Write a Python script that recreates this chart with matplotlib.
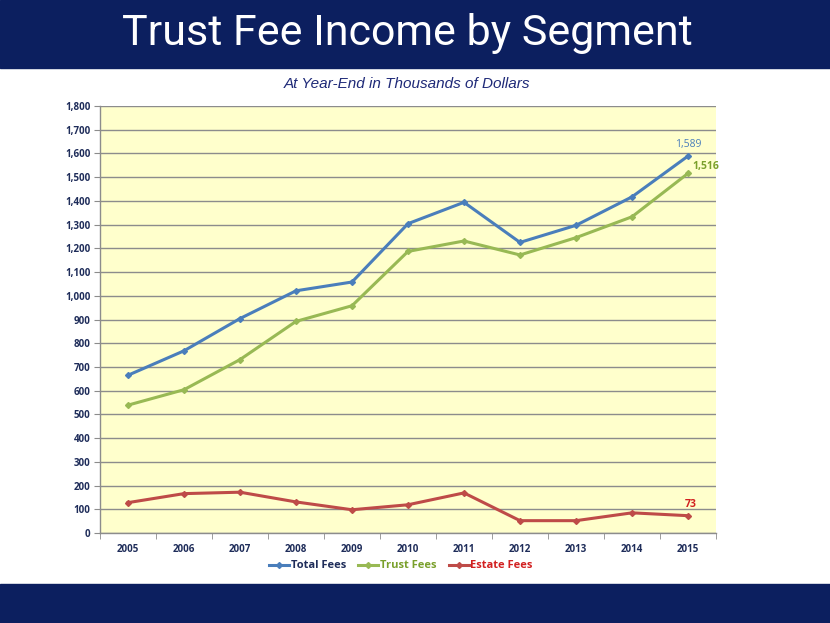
import matplotlib
matplotlib.use("Agg")
import matplotlib.pyplot as plt
from matplotlib.patches import Rectangle

years = ["2005", "2006", "2007", "2008", "2009", "2010", "2011", "2012", "2013", "2014", "2015"]
total_fees = [665, 768, 904, 1021, 1058, 1304, 1394, 1225, 1297, 1417, 1589]
trust_fees = [539, 604, 731, 892, 958, 1187, 1231, 1172, 1245, 1333, 1516]
estate_fees = [128, 166, 172, 131, 98, 119, 169, 52, 52, 85, 73]
y_ticks = list(range(0, 1801, 100))

NAVY = "#0C1F5F"
BLUE = "#4A7EBB"
GREEN = "#98B954"
RED = "#BE4B48"
TICKC = "#1F2D5A"

fig = plt.figure(figsize=(8.3, 6.23), dpi=100)
W, H = 830, 623

# banners
fig.patches.append(Rectangle((0, 1 - 68 / H), 1, 68 / H, transform=fig.transFigure, color=NAVY, zorder=0))
fig.patches.append(Rectangle((0, 0), 1, 39 / H, transform=fig.transFigure, color=NAVY, zorder=0))
fig.text(407 / W, 1 - 34 / H, "Trust Fee Income by Segment", color="white", fontsize=31,
         ha="center", va="center", family="Roboto", fontweight="normal")
fig.text(407 / W, 1 - 84 / H, "At Year-End in Thousands of Dollars", color="#1F2A78", fontsize=11,
         ha="center", va="center", style="italic", family="Liberation Sans")

ax = fig.add_axes([100 / W, (623 - 533) / H, 616 / W, 427 / H])
ax.set_facecolor("#FFFFCC")
x = list(range(len(years)))
ax.plot(x, total_fees, color=BLUE, lw=2.2, marker="D", ms=3, label="Total Fees", zorder=3)
ax.plot(x, trust_fees, color=GREEN, lw=2.2, marker="D", ms=3, label="Trust Fees", zorder=3)
ax.plot(x, estate_fees, color=RED, lw=2.2, marker="D", ms=3, label="Estate Fees", zorder=3)

ax.set_xlim(-0.5, len(years) - 0.5)
ax.set_ylim(0, 1800)
ax.set_yticks(y_ticks)
ax.set_yticklabels([f"{v:,}" for v in y_ticks])
ax.set_xticks(x)
ax.set_xticklabels(years)
ax.set_xticks([i - 0.5 for i in range(len(years) + 1)], minor=True)
ax.tick_params(axis="x", which="major", length=0, pad=8)
ax.tick_params(axis="x", which="minor", length=4, color="#8C8C8C", direction="out")
ax.tick_params(axis="y", length=4, color="#8C8C8C", direction="out", pad=3)
for lab in ax.get_xticklabels() + ax.get_yticklabels():
    lab.set_fontsize(7)
    lab.set_fontweight("bold")
    lab.set_color(TICKC)
    lab.set_family("Open Sans")
ax.grid(axis="y", color="#8C8C8C", lw=1)
ax.set_axisbelow(True)
for s in ["top", "right"]:
    ax.spines[s].set_visible(False)
for s in ["left", "bottom"]:
    ax.spines[s].set_color("#8C8C8C")
    ax.spines[s].set_linewidth(1)

ax.annotate(f"{total_fees[-1]:,}", (x[-1], total_fees[-1]), xytext=(0, 4), textcoords="offset points",
            ha="center", va="bottom", color=BLUE, fontsize=7.5, fontweight="normal", family="Open Sans")
ax.annotate(f"{trust_fees[-1]:,}", (x[-1], trust_fees[-1]), xytext=(3, 1), textcoords="offset points",
            ha="left", va="bottom", color="#7AA02C", fontsize=7.5, fontweight="bold", family="Open Sans")
ax.annotate(f"{estate_fees[-1]:,}", (x[-1], estate_fees[-1]), xytext=(2, 4), textcoords="offset points",
            ha="center", va="bottom", color="#D22020", fontsize=7.5, fontweight="bold", family="Open Sans")

leg = ax.legend(loc="center", bbox_to_anchor=(401 / W, 1 - 566 / H), bbox_transform=fig.transFigure,
                ncol=3, frameon=False, handlelength=1.8, columnspacing=1.1, handletextpad=0.15,
                prop={"family": "Open Sans", "weight": "bold", "size": 8})
for t, c in zip(leg.get_texts(), [TICKC, "#7AA02C", "#D22020"]):
    t.set_color(c)

fig.savefig("out.png", dpi=100)
